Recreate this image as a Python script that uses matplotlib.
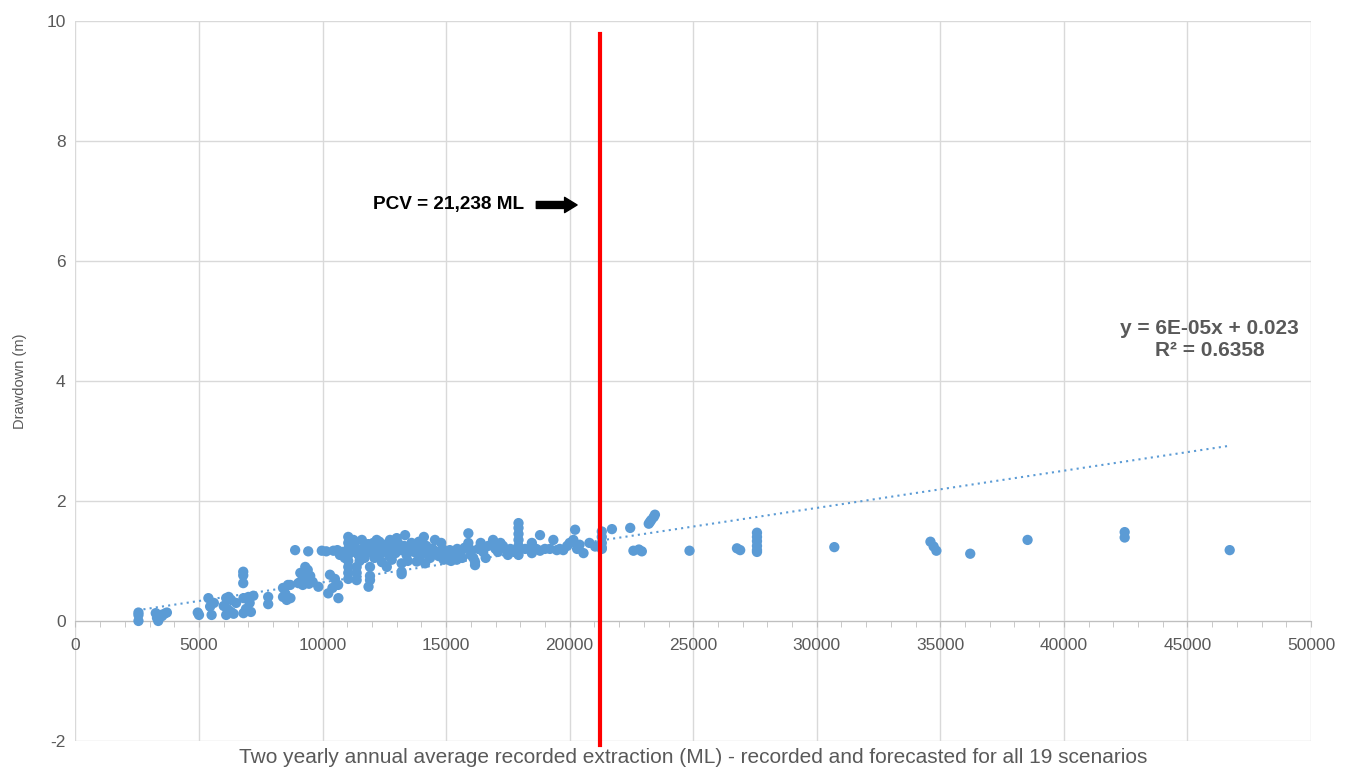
import numpy as np
import matplotlib.pyplot as plt

plt.rcParams['font.family'] = ['Liberation Sans', 'DejaVu Sans']

# Recorded / forecast extraction (ML) and drawdown (m)
extraction = [
    2550, 2550, 2550,
    3250, 3300, 3350, 3450, 3600, 3700, 3300, 3500,
    4950, 5000,
    5380, 5450, 5510, 5600,
    6100, 6200, 6300, 6150, 6300, 6500, 6100, 6400, 6000,
    6790, 6790, 6790,
    6800, 7000, 7200, 6900, 7100, 6800, 7050,
    7800, 7800,
    8400, 8500, 8600, 8700, 8550, 8400,
    8890, 9020, 8690,
    9420, 9970, 10150, 10440, 10600, 10800,
    9100, 9200, 9300, 9400, 9500, 9200, 9600, 9100, 9350, 9450,
    9830, 10230, 10300, 10630, 10640, 10500, 10400,
    11040, 11040, 11040, 11040, 11040, 11040, 11040, 11040,
    11590, 11380, 11380, 11380, 11920, 11860, 11920, 11920,
    12190, 12730, 13340, 14100, 14550,
    12600, 13200, 13200, 13200, 13810, 14150, 15430,
    11200, 11300, 11450, 11600, 11750, 11850, 12000, 12100, 12250, 12350,
    12500, 12600, 12700, 12850, 12950, 13050, 13150, 13300, 13400, 13500,
    13600, 13700, 13850, 13950, 14050, 14200, 14300, 14450, 14600, 14700,
    14850, 15000, 15150, 15300, 15450, 15600, 15750, 15900, 15900, 15950,
    16000, 16170, 16170, 16100,
    11250, 11500, 11700, 12050, 12400, 12800, 13000, 13450, 13900, 14350,
    14800, 15200, 15650, 12300, 14900, 10900, 10700,
    16300, 16500, 16700, 16900, 17000, 17190, 17100, 17300, 17450, 17600, 17750,
    16600, 17200, 16400, 17500,
    17930, 17930, 17930, 17930, 17930, 17930, 17930,
    18000, 18200, 18470, 18470, 18470, 18650, 18800, 18800, 19000, 19200,
    19340, 19480, 19600, 19740, 19900, 20000,
    20220, 20150, 20300, 20400, 20560, 20800, 21030,
    21300, 21300, 21300, 21300, 21300,
    21710, 22450, 22580, 22920, 22800,
    23200, 23300, 23400, 23450, 23250,
    24850, 26770, 26900,
    27580, 27580, 27580, 27580, 27580, 27580,
    30710, 34600, 34730, 34840, 36210, 38530, 42460, 42460, 46710,
]
drawdown = [
    0.14, 0.10, 0.0,
    0.13, 0.05, 0.0, 0.10, 0.12, 0.14, 0.10, 0.08,
    0.14, 0.10,
    0.38, 0.24, 0.10, 0.30,
    0.38, 0.40, 0.35, 0.20, 0.15, 0.30, 0.10, 0.12, 0.25,
    0.82, 0.76, 0.63,
    0.38, 0.40, 0.42, 0.20, 0.15, 0.13, 0.30,
    0.40, 0.28,
    0.55, 0.45, 0.60, 0.38, 0.35, 0.40,
    1.18, 0.63, 0.60,
    1.16, 1.17, 1.16, 1.17, 1.18, 1.15,
    0.80, 0.70, 0.90, 0.85, 0.75, 0.60, 0.65, 0.65, 0.70, 0.62,
    0.57, 0.46, 0.77, 0.60, 0.38, 0.70, 0.55,
    1.40, 1.30, 1.20, 1.10, 1.00, 0.90, 0.80, 0.70,
    1.35, 0.90, 0.80, 0.68, 0.90, 0.57, 0.68, 0.75,
    1.35, 1.35, 1.43, 1.40, 1.35,
    0.90, 0.96, 0.82, 0.78, 0.99, 0.96, 1.02,
    1.15, 1.25, 1.10, 1.20, 1.12, 1.28, 1.15, 1.05, 1.22, 1.12,
    1.18, 1.28, 1.08, 1.20, 1.13, 1.30, 1.18, 1.25, 1.10, 1.20,
    1.30, 1.15, 1.22, 1.08, 1.18, 1.25, 1.12, 1.20, 1.15, 1.08,
    1.20, 1.12, 1.18, 1.10, 1.20, 1.15, 1.22, 1.46, 1.30, 1.20,
    1.10, 0.98, 0.93, 1.05,
    1.35, 1.00, 1.05, 1.30, 0.98, 1.02, 1.38, 1.00, 1.32, 1.05,
    1.30, 1.00, 1.05, 1.32, 1.02, 1.05, 1.10,
    1.20, 1.15, 1.25, 1.35, 1.20, 1.21, 1.15, 1.25, 1.18, 1.20, 1.15,
    1.05, 1.30, 1.30, 1.10,
    1.63, 1.55, 1.45, 1.35, 1.25, 1.15, 1.10,
    1.20, 1.20, 1.30, 1.20, 1.13, 1.20, 1.43, 1.17, 1.20, 1.20,
    1.35, 1.18, 1.20, 1.18, 1.25, 1.30,
    1.52, 1.35, 1.20, 1.27, 1.13, 1.30, 1.24,
    1.49, 1.40, 1.30, 1.22, 1.20,
    1.53, 1.55, 1.17, 1.16, 1.19,
    1.62, 1.68, 1.73, 1.77, 1.65,
    1.17, 1.21, 1.18,
    1.47, 1.40, 1.33, 1.25, 1.18, 1.15,
    1.23, 1.32, 1.24, 1.17, 1.12, 1.35, 1.48, 1.39, 1.18,
]

pcv = 21238
trend_slope = 6.2e-05
trend_intercept = 0.023

x_ticks = np.arange(0, 50001, 5000)
y_ticks = np.arange(-2, 11, 2)

grey_text = '#595959'
blue = '#5b9bd5'

fig = plt.figure(figsize=(13.57, 7.69), dpi=100)
ax = fig.add_axes([0.0556, 0.0364, 0.9105, 0.9367])

ax.set_xlim(0, 50000)
ax.set_ylim(-2, 10)
ax.set_xticks(x_ticks)
ax.set_yticks(y_ticks)
ax.set_xticks(np.arange(0, 50001, 1000), minor=True)
ax.grid(True, which='major', color='#d9d9d9', linewidth=1)
ax.set_axisbelow(True)

for s in ['top', 'right', 'left']:
    ax.spines[s].set_visible(False)
ax.spines['bottom'].set_position(('data', 0))
ax.spines['bottom'].set_color('#bfbfbf')
ax.tick_params(axis='x', which='both', direction='out', length=4, color='#bfbfbf',
               labelsize=12.5, labelcolor=grey_text, pad=8)
ax.tick_params(axis='y', length=0, labelsize=12.5, labelcolor=grey_text, pad=7)
ax.set_xticklabels([str(v) for v in x_ticks])
ax.set_yticklabels([str(v) for v in y_ticks])

# scatter
ax.scatter(extraction, drawdown, s=55, color=blue, edgecolors='none', zorder=3)

# trendline
tx = np.array([2500, 46700])
ax.plot(tx, trend_intercept + trend_slope * tx, linestyle=(0, (1, 2)), color=blue,
        linewidth=1.5, zorder=2)

# PCV line
ax.plot([pcv, pcv], [-2.07, 9.77], color='#ff0000', linewidth=3, zorder=4, clip_on=False)
ax.annotate('', xy=(20300, 6.93), xytext=(18650, 6.93),
            arrowprops=dict(arrowstyle='simple,head_length=0.9,head_width=1.1,tail_width=0.5',
                            color='black', shrinkA=0, shrinkB=0))
ax.text(18150, 6.93, 'PCV = 21,238 ML', ha='right', va='center', fontsize=13.7,
        fontweight='bold', color='black')

ax.text(45900, 4.69, 'y = 6E-05x + 0.023\nR² = 0.6358', ha='center', va='center',
        fontsize=15, fontweight='bold', color=grey_text, linespacing=1.15)

ax.set_ylabel('Drawdown (m)', fontsize=10.5, color=grey_text, labelpad=14)
fig.text(0.5107, 0.015, 'Two yearly annual average recorded extraction (ML) - recorded and forecasted for all 19 scenarios',
         ha='center', va='center', fontsize=15, color=grey_text)

fig.savefig('out.png', dpi=100)
